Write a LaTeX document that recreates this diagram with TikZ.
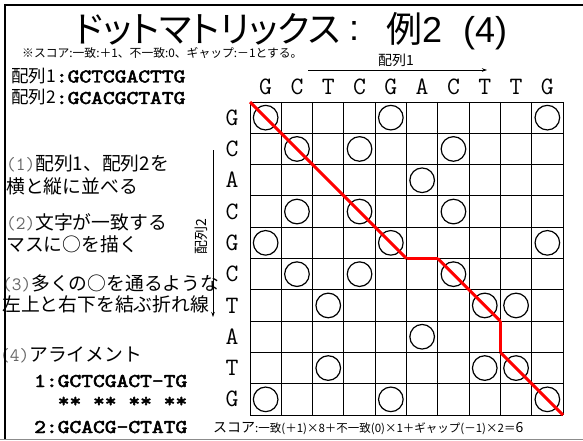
\documentclass[tikz,border=0pt]{standalone}
\usepackage{fontspec}
\usepackage{graphicx}
\usetikzlibrary{arrows.meta}
\setmainfont{Liberation Sans}
\newfontfamily\jp{Noto Sans CJK JP}
\newfontfamily\jpp{Noto Sans CJK JP}[RawFeature=+palt]
\newfontfamily\courb{lmmono10-regular.otf}[FakeBold=2.5]
\definecolor{parcol}{gray}{0.4}
\newcommand{\sq}[1]{\scalebox{1.15}[1]{\courb\fontsize{19.5}{20}\selectfont #1}}
\newcommand{\pn}[1]{{\ttfamily\color{parcol}#1}}
\begin{document}
\begin{tikzpicture}[x=1pt,y=-1pt,
  gridln/.style={line width=0.9pt,black},
  dot/.style={circle,draw,line width=1.2pt,minimum size=24.6pt,inner sep=0pt},
  seqlet/.style={font=\ttfamily\fontsize{25}{25}\selectfont,inner sep=0pt,anchor=base},
  jptxt/.style={font=\jp\fontsize{18.8}{20}\selectfont,inner sep=0pt,anchor=base west},
  seqtxt/.style={inner sep=0pt,anchor=base west},
  redseg/.style={line width=3pt,red},
  axarrow/.style={line width=0.8pt,-{Stealth[length=5pt,width=3.5pt]}}]
\useasboundingbox (0,0) rectangle (583,441);
% frame
\draw[line width=2.5pt] (4,5) -- (583,5);
\draw[line width=0.8pt,black!45] (0,439.5) -- (583,439.5);
% title
\node[font=\jpp\fontsize{36}{36}\selectfont,inner sep=0pt,anchor=base west] (title) at (75,43) {ドットマトリックス};
\node[font=\fontsize{36}{36}\selectfont,inner sep=0pt,anchor=base] (colon) at (354,41) {:};
\node[font=\jp\fontsize{36}{36}\selectfont,inner sep=0pt,anchor=base west] (ex) at (386,43) {例\fontspec{Liberation Sans}2};
\node[font=\fontsize{36}{36}\selectfont,inner sep=0pt,anchor=base west] (num) at (463,43) {(4)};
\node[font=\jp\fontsize{11.8}{12}\selectfont,inner sep=0pt,anchor=base west] (note) at (22,58) {※スコア:一致:＋1、不一致:0、ギャップ:－1とする。};
% sequences
\node[jptxt,font=\jp\fontsize{17.5}{20}\selectfont] (s1) at (11,82.5) {配列1\sq{:GCTCGACTTG}};
\node[jptxt,font=\jp\fontsize{17.5}{20}\selectfont] (s2) at (11,104) {配列2\sq{:GCACGCTATG}};
% steps
\node[jptxt] (t1a) at (6,170) {\pn{(1)}配列1、配列2を};
\node[jptxt] (t1b) at (6,193) {横と縦に並べる};
\node[jptxt] (t2a) at (6,229) {\pn{(2)}文字が一致する};
\node[jptxt] (t2b) at (6,251) {マスに○を描く};
\node[jptxt] (t3a) at (2,290) {\pn{(3)}多くの○を通るような};
\node[jptxt] (t3b) at (2,311) {左上と右下を結ぶ折れ線};
\node[jptxt] (t4) at (0,361) {\pn{(4)}アライメント};
\node[seqtxt] (al1) at (34,387) {\sq{1:GCTCGACT-TG}};
\node[seqtxt] (al2) at (34,407) {\sq{\ \ ** ** ** **}};
\node[seqtxt] (al3) at (34,433) {\sq{2:GCACG-CTATG}};
% left border over cut text
\draw[line width=2.5pt] (5,4) -- (5,439);
% axis labels
\coordinate (a1s) at (308,70);
\coordinate (a1e) at (487,70);
\draw[axarrow] (a1s) -- (a1e);
\node[font=\jp\fontsize{14}{14}\selectfont,inner sep=0pt,anchor=base] (lab1) at (396,66) {配列1};
\coordinate (a2s) at (213,150);
\coordinate (a2e) at (213,317);
\draw[axarrow] (a2s) -- (a2e);
\node[font=\jp\fontsize{14}{14}\selectfont,inner sep=0pt,rotate=90] (lab2) at (201,237) {配列2};
% letters
\foreach \l [count=\i] in {G,C,T,C,G,A,C,T,T,G}
  \node[seqlet] (c\i) at ({250+31.3*(\i-0.5)},95) {\l};
\foreach \l [count=\i] in {G,C,A,C,G,C,T,A,T,G}
  \node[seqlet] (r\i) at (232,{102+31.3*(\i-0.5)+7.6}) {\l};
% grid
\foreach \i in {0,...,10} {
  \draw[gridln] ({250+31.3*\i},102) -- ({250+31.3*\i},415);
  \draw[gridln] (250,{102+31.3*\i}) -- (563,{102+31.3*\i});
}
% dots
\foreach \r/\c in {1/1,1/5,1/10,2/2,2/4,2/7,3/6,4/2,4/4,4/7,5/1,5/5,5/10,6/2,6/4,6/7,7/3,7/8,7/9,8/6,9/3,9/8,9/9,10/1,10/5,10/10}
  \node[dot] (d\r-\c) at ({250+31.3*(\c-0.5)},{102+31.3*(\r-0.5)}) {};
% red path
\coordinate (p0) at (250,102);
\coordinate (p1) at (406.5,258.5);
\coordinate (p2) at (437.8,258.5);
\coordinate (p3) at (500.4,321.1);
\coordinate (p4) at (500.4,352.4);
\coordinate (p5) at (563,415);
\draw[redseg] (p0) -- (p1);
\draw[redseg] (p1) -- (p2);
\draw[redseg] (p2) -- (p3);
\draw[redseg] (p3) -- (p4);
\draw[redseg] (p4) -- (p5);
% score
\node[font=\jp\fontsize{11.5}{11.5}\selectfont,inner sep=0pt,anchor=base west] (score) at (213,432) {{\fontsize{14}{14}\selectfont スコア}:一致(＋1)×8＋不一致(0)×1＋ギャップ(－1)×2＝{\fontsize{14}{14}\selectfont 6}};
\end{tikzpicture}
\end{document}
